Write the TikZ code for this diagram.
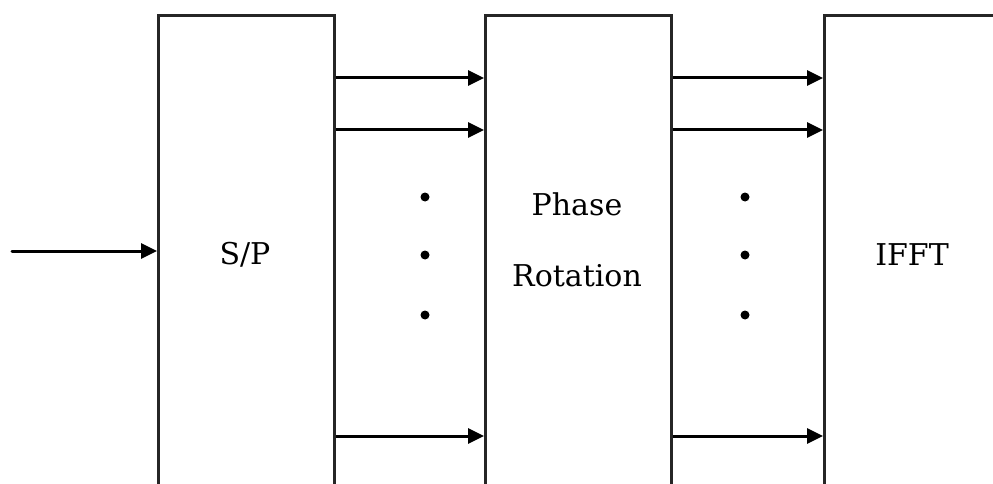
\documentclass[tikz,border=0pt]{standalone}
\usepackage{fontspec}
\setmainfont{DejaVu Serif}
\usetikzlibrary{arrows.meta}
\begin{document}
\begin{tikzpicture}[x=1pt,y=-1pt,
  blk/.style={draw=black!85,line width=2.6pt,minimum width=#1,minimum height=488pt,inner sep=0pt,anchor=north west},
  lbl/.style={font=\fontsize{30}{71}\selectfont,align=center,inner sep=0pt},
  arr/.style={line width=3pt,-{Triangle[length=16pt,width=15pt]}},
  dot/.style={circle,fill=black,inner sep=0pt,minimum size=9pt}]
\useasboundingbox (0,0) rectangle (993,484);
\clip (0,0) rectangle (993,484);
\node[blk=176pt] (sp) at (157,14) {};
\node[blk=186pt] (pr) at (484,14) {};
\node[blk=250pt] (ifft) at (823,14) {};
\node[lbl] (tsp) at (245,255) {S/P};
\node[lbl] (tpr) at (577,240) {Phase\\Rotation};
\node[lbl] (tif) at (912,255) {IFFT};
\coordinate (in) at (12,251);
\coordinate (r1) at (0,78);
\coordinate (r2) at (0,130);
\coordinate (r3) at (0,436);
\draw[arr,line cap=round] (in) -- (sp.west |- in);
\foreach \r in {r1,r2,r3}{
  \draw[arr] (sp.east |- \r) -- (pr.west |- \r);
  \draw[arr] (pr.east |- \r) -- (ifft.west |- \r);
}
\foreach \x/\n in {425/a,745/b}{
  \node[dot] (\n1) at (\x,197) {};
  \node[dot] (\n2) at (\x,255) {};
  \node[dot] (\n3) at (\x,315) {};
}
\end{tikzpicture}
\end{document}
